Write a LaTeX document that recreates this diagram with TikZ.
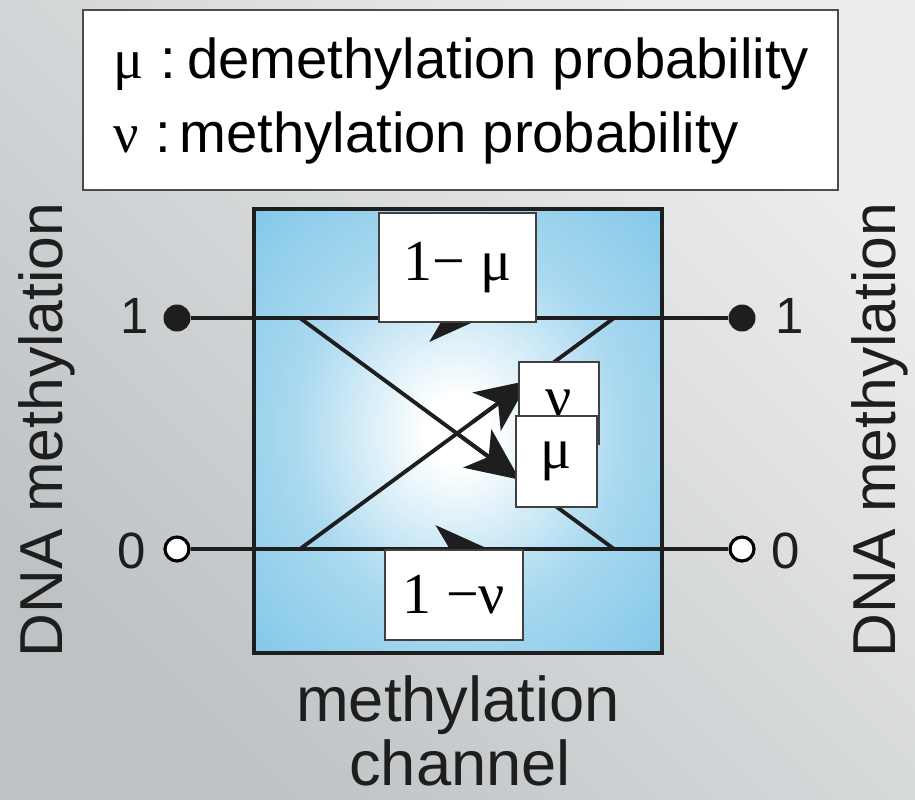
\documentclass[tikz,border=0pt]{standalone}
\usepackage{fontspec}
\setmainfont{Liberation Sans}
\newfontfamily\greekfont{Liberation Serif}
\usepackage{tikz}
\usetikzlibrary{arrows.meta, calc, positioning}
\definecolor{chanblue}{RGB}{118, 194, 230}
\definecolor{bgdark}{RGB}{190, 194, 196}
\definecolor{bglight}{RGB}{236, 237, 238}
\definecolor{wireblack}{RGB}{30, 30, 30}
\pgfdeclareradialshading{changlow}{\pgfpoint{0bp}{0bp}}{color(0bp)=(white); color(4bp)=(white); color(20bp)=(chanblue!62); color(38bp)=(chanblue!95); color(50bp)=(chanblue)}
\tikzset{
  wire/.style={wireblack, line width=2.2pt},
  flowtip/.style={wireblack, line width=2.2pt, -{Stealth[length=30pt, width=27pt, inset=8pt]}},
  probbox/.style={draw=black!75, fill=white, line width=0.7pt, inner sep=0pt, font=\greekfont\fontsize{33}{38}\selectfont},
  fulldot/.style={circle, fill=wireblack, minimum size=0.54cm, inner sep=0pt},
  opendot/.style={circle, draw=black, fill=white, line width=1.8pt, minimum size=0.48cm, inner sep=0pt},
  biglbl/.style={text=wireblack, font=\fontsize{36}{40}\selectfont, inner sep=0pt},
  sidelbl/.style={text=wireblack, font=\fontsize{34.5}{40}\selectfont, inner sep=0pt, rotate=90, anchor=base},
  numlbl/.style={text=wireblack, font=\fontsize{29}{34}\selectfont, inner sep=0pt, anchor=base},
  legendtxt/.style={text=black, font=\fontsize{32}{36}\selectfont, inner sep=0pt, anchor=base west}
}

\begin{document}
\begin{tikzpicture}[x=0.02cm, y=-0.02cm]
  \useasboundingbox (0,0) rectangle (915,799);
  \shade[top color=bglight, bottom color=bgdark, shading angle=-45] (0,0) rectangle (915,799);

  % legend
  \node[draw=black!70, fill=white, line width=0.8pt, minimum width=15.1cm, minimum height=3.6cm, inner sep=0pt] (legend) at (460.5,100) {};
  \node[legendtxt] (legmu) at (113,78) {{\greekfont μ}\hspace{0.3em}:\hspace{0.2em}demethylation probability};
  \node[legendtxt] (legnu) at (113,152) {{\greekfont ν}\hspace{0.3em}:\hspace{0.15em}methylation probability};

  % channel
  \node[draw=wireblack, line width=2.3pt, shade, shading=changlow, minimum width=8.16cm, minimum height=8.88cm, inner sep=0pt] (chan) at (458,431) {};

  \node[fulldot] (oneL) at (177,318) {};
  \node[fulldot] (oneR) at (742,318) {};
  \node[opendot] (zeroL) at (177,549) {};
  \node[opendot] (zeroR) at (742,549) {};
  \coordinate (xTL) at (300,318);
  \coordinate (xTR) at (614,318);
  \coordinate (xBL) at (300,549);
  \coordinate (xBR) at (614,549);

  \draw[wire] (oneL) -- (oneR);
  \draw[wire] (zeroL) -- (zeroR);
  \draw[wire] (xTL) -- (xBR);
  \draw[wire] (xBL) -- (xTR);

  \draw[flowtip] ($(xTL)!0.4!(xTR)$) -- ($(xTL)!0.58!(xTR)$);
  \draw[flowtip] ($(xBL)!0.4!(xBR)$) -- ($(xBL)!0.60!(xBR)$);
  \draw[flowtip] ($(xBL)!0.55!(xTR)$) -- ($(xBL)!0.73!(xTR)$);
  \draw[flowtip] ($(xTL)!0.5!(xBR)$) -- ($(xTL)!0.70!(xBR)$);

  % probabilities
  \node[probbox, minimum width=3.14cm, minimum height=2.18cm] (stay1) at (457.5,267.5) {1− μ};
  \node[probbox, minimum width=2.76cm, minimum height=1.80cm] (stay0) at (454,595) {1 −ν};
  \node[probbox, minimum width=1.60cm, minimum height=1.64cm] (flipup) at (559,403) {ν};
  \node[probbox, minimum width=1.62cm, minimum height=1.82cm] (flipdown) at (556.5,461.5) {μ};

  % labels
  \node[numlbl] (numOneL) at (135,333) {1};
  \node[numlbl] (numZeroL) at (132,568) {0};
  \node[numlbl] (numOneR) at (790,333) {1};
  \node[numlbl] (numZeroR) at (786,568) {0};
  \node[sidelbl] (dnaL) at (62,430) {DNA methylation};
  \node[sidelbl] (dnaR) at (895,430) {DNA methylation};
  \node[biglbl, anchor=base] (chanA) at (458,721) {methylation};
  \node[biglbl, anchor=base] (chanB) at (460,785) {channel};
\end{tikzpicture}
\end{document}
